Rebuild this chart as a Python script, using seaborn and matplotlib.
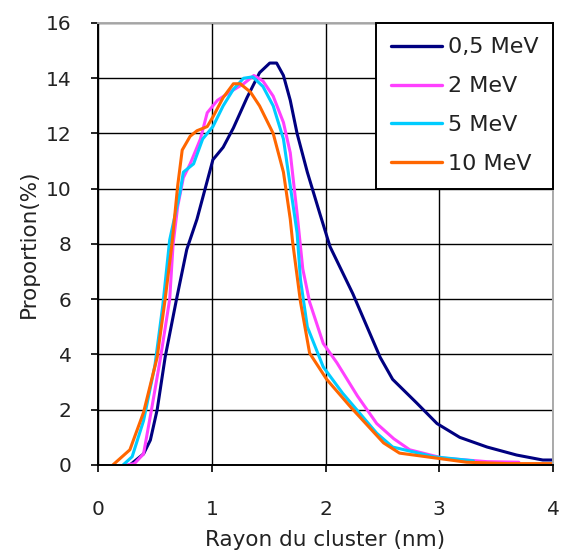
import matplotlib
matplotlib.use("Agg")
import matplotlib.pyplot as plt
import pandas as pd
import seaborn as sns

# Rayon du cluster (nm) vs proportion (%) for each energy
x_05 = [0.28, 0.40, 0.46, 0.52, 0.59, 0.69, 0.78, 0.87, 1.01, 1.10, 1.19, 1.31, 1.42, 1.51,
        1.57, 1.63, 1.69, 1.75, 1.84, 1.95, 2.04, 2.24, 2.48, 2.59, 2.80, 2.98, 3.18, 3.42,
        3.68, 3.91, 4.00]
y_05 = [0.0, 0.4, 0.9, 2.0, 3.9, 6.0, 7.8, 8.9, 11.05, 11.5, 12.2, 13.3, 14.2, 14.55,
        14.55, 14.1, 13.2, 12.0, 10.6, 9.1, 7.9, 6.2, 3.9, 3.1, 2.25, 1.5, 1.0, 0.65,
        0.36, 0.18, 0.18]

x_2 = [0.25, 0.32, 0.40, 0.47, 0.55, 0.63, 0.66, 0.70, 0.75, 0.81, 0.90, 0.96, 1.05, 1.16,
       1.28, 1.37, 1.45, 1.54, 1.63, 1.69, 1.75, 1.80, 1.86, 1.98, 2.10, 2.28, 2.45, 2.60,
       2.74, 3.03, 3.42, 3.70]
y_2 = [0.0, 0.05, 0.4, 2.0, 3.9, 6.0, 8.0, 9.35, 10.4, 10.9, 11.8, 12.75, 13.2, 13.5,
       13.8, 14.1, 13.9, 13.35, 12.4, 11.3, 9.1, 7.1, 5.9, 4.4, 3.7, 2.5, 1.5, 0.95,
       0.55, 0.25, 0.12, 0.1]

x_5 = [0.22, 0.30, 0.40, 0.50, 0.57, 0.63, 0.72, 0.75, 0.84, 0.92, 1.01, 1.10, 1.19, 1.28,
       1.36, 1.45, 1.54, 1.63, 1.69, 1.75, 1.78, 1.84, 1.98, 2.15, 2.45, 2.59, 2.95, 3.30]
y_5 = [0.0, 0.3, 1.6, 3.6, 5.8, 8.15, 9.85, 10.6, 10.9, 11.8, 12.25, 13.0, 13.6, 14.0,
       14.05, 13.7, 13.0, 11.8, 10.1, 8.4, 6.7, 5.0, 3.55, 2.6, 1.15, 0.65, 0.3, 0.15]

x_10 = [0.13, 0.28, 0.40, 0.52, 0.59, 0.65, 0.70, 0.74, 0.81, 0.87, 0.96, 1.01, 1.10, 1.19,
        1.25, 1.34, 1.42, 1.54, 1.63, 1.69, 1.71, 1.78, 1.86, 2.01, 2.22, 2.51, 2.65, 3.24,
        3.60, 4.00]
y_10 = [0.0, 0.55, 1.9, 3.9, 6.0, 8.0, 10.1, 11.4, 11.9, 12.1, 12.25, 12.6, 13.3, 13.8,
        13.8, 13.5, 13.0, 12.0, 10.6, 8.9, 8.1, 5.9, 4.05, 3.1, 2.1, 0.8, 0.43, 0.1,
        0.05, 0.05]

labels = ["0,5 MeV", "2 MeV", "5 MeV", "10 MeV"]
colors = ["#000080", "#FF40FF", "#00CCFF", "#FF6600"]

series = [(x_05, y_05), (x_2, y_2), (x_5, y_5), (x_10, y_10)]
df = pd.concat(
    [pd.DataFrame({"rayon": xs, "proportion": ys, "energie": lab})
     for (xs, ys), lab in zip(series, labels)],
    ignore_index=True,
)

sns.set_theme(style="white")
plt.rcParams["font.family"] = ["DejaVu Sans"]

fig = plt.figure(figsize=(5.65, 5.58), dpi=100)
ax = fig.add_axes([0.1735, 0.1667, 0.8053, 0.7921])

sns.lineplot(data=df, x="rayon", y="proportion", hue="energie", hue_order=labels,
             palette=dict(zip(labels, colors)), sort=False, estimator=None,
             linewidth=2.2, ax=ax)

ax.set_xlim(0, 4)
ax.set_ylim(0, 16)
ax.set_xticks(range(0, 5))
ax.set_yticks(range(0, 17, 2))
ax.grid(True, color="black", linewidth=1.0)
ax.set_axisbelow(True)

for side in ["left", "bottom"]:
    ax.spines[side].set_color("black")
    ax.spines[side].set_linewidth(1.4)
for side in ["top", "right"]:
    ax.spines[side].set_color("#AAAAAA")
    ax.spines[side].set_linewidth(1.4)

ax.tick_params(axis="x", direction="out", length=5, width=1.2, color="black",
               pad=20, labelsize=14.5, labelcolor="#222222", bottom=True)
ax.tick_params(axis="y", direction="out", length=5, width=1.2, color="black",
               pad=14, labelsize=14.5, labelcolor="#222222", left=True)

ax.set_xlabel("Rayon du cluster (nm)", fontsize=15.5, color="#222222", labelpad=8)
ax.set_ylabel("Proportion(%)", fontsize=15.5, color="#222222", labelpad=5)

leg = ax.legend(loc="upper right", fontsize=16, frameon=True, fancybox=False,
                edgecolor="black", framealpha=1, borderaxespad=0, handlelength=2.3,
                labelspacing=0.85, borderpad=0.65, handletextpad=0.27)
leg.get_frame().set_linewidth(1.4)
for text in leg.get_texts():
    text.set_color("#222222")
for line in leg.get_lines():
    line.set_linewidth(2.4)

fig.savefig("out.png", dpi=100)
